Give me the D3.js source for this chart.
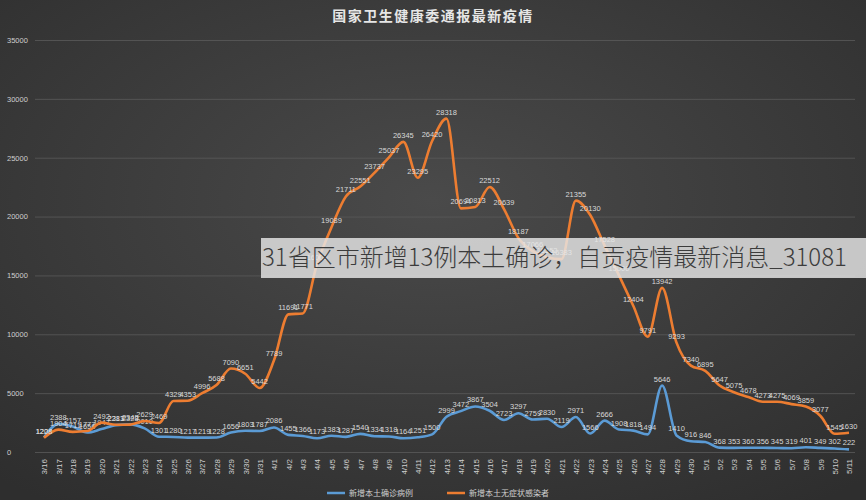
<!DOCTYPE html>
<html><head><meta charset="utf-8">
<script src="https://cdn.jsdelivr.net/npm/d3@7"></script>
<style>body{margin:0;background:#3a3a3a}svg{display:block}</style></head>
<body><svg id="c" width="866" height="500"></svg>
<script>
const dates = ["3/16","3/17","3/18","3/19","3/20","3/21","3/22","3/23","3/24","3/25","3/26","3/27","3/28","3/29","3/30","3/31",
"4/1","4/2","4/3","4/4","4/5","4/6","4/7","4/8","4/9","4/10","4/11","4/12","4/13","4/14","4/15","4/16","4/17","4/18","4/19","4/20","4/21","4/22","4/23","4/24","4/25","4/26","4/27","4/28","4/29","4/30",
"5/1","5/2","5/3","5/4","5/5","5/6","5/7","5/8","5/9","5/10","5/11"];
const confirmed = [1226,2388,2157,1656,1947,2281,2345,2010,1301,1280,1217,1219,1228,1656,1803,1787,
2086,1455,1366,1173,1383,1287,1540,1334,1318,1164,1251,1500,2999,3472,3867,3504,2723,3297,2759,2830,2119,2971,1566,2666,1908,1818,1494,5646,1410,916,
846,368,353,360,356,345,319,401,349,302,222];
const asymptomatic = [1208,1904,1711,1777,2492,2313,2328,2629,2469,4329,4353,4996,5688,7090,6651,5442,
7789,11691,11771,16000,19089,21711,22551,23737,25037,26345,23295,26420,28318,20694,20813,22512,20639,18187,17066,16552,16383,21355,20130,17528,15000,12404,9791,13942,9293,7340,
6895,5647,5075,4678,4273,4275,4069,3859,3077,1545,1630];
const yTicks = [0,5000,10000,15000,20000,25000,30000,35000];
const seriesNames = ["新增本土确诊病例","新增本土无症状感染者"];
const colors = ["#5b9bd5","#ed7d31"];

const svg = d3.select("#c");
const defs = svg.append("defs");
const g0 = defs.append("radialGradient").attr("id","bg").attr("cx","50%").attr("cy","40%").attr("r","75%");
g0.append("stop").attr("offset","0%").attr("stop-color","#4a4a4a");
g0.append("stop").attr("offset","100%").attr("stop-color","#2e2e2e");
svg.append("rect").attr("width",866).attr("height",500).attr("fill","url(#bg)");

const x = d3.scalePoint().domain(dates).range([44,849]);
const y = d3.scaleLinear().domain([0,35000]).range([452,40]);

const gy = svg.append("g").attr("transform","translate(35,0)")
  .call(d3.axisLeft(y).tickValues(yTicks).tickSize(-820).tickFormat(d3.format("d")));
gy.select(".domain").remove();
gy.selectAll("line").attr("stroke","#5a5a5a").attr("stroke-width",0.8);
gy.selectAll("text").attr("fill","#cfcfcf").attr("font-size",7.5).attr("font-family","Liberation Sans")
  .attr("text-anchor","start").attr("x",-28).attr("dy","0.32em");

const gx = svg.append("g").attr("transform","translate(0,455)")
  .call(d3.axisBottom(x).tickSize(0));
gx.select(".domain").remove();
gx.selectAll("text").attr("fill","#cfcfcf").attr("font-size",8).attr("font-family","Liberation Sans")
  .attr("transform","rotate(-90)").attr("text-anchor","end").attr("x",-4).attr("y",0).attr("dy","0.35em");

[confirmed, asymptomatic].forEach((s,i)=>{
  svg.append("path").datum(s).attr("fill","none").attr("stroke",colors[i]).attr("stroke-width",2.6)
    .attr("stroke-linejoin","round")
    .attr("d",d3.line().curve(d3.curveMonotoneX).x((d,j)=>x(dates[j])).y(d=>y(d)));
  svg.append("g").selectAll("text").data(s).join("text")
    .attr("x",(d,j)=>x(dates[j])).attr("y",d=>y(d)-4)
    .attr("text-anchor","middle").attr("font-size",7.5).attr("font-family","Liberation Sans")
    .attr("fill","#d8d8d8").text(d=>d);
});

svg.append("text").attr("x",433).attr("y",21).attr("text-anchor","middle")
  .attr("font-family","Noto Sans CJK SC").attr("font-weight","bold").attr("font-size",14)
  .attr("letter-spacing",1.5).attr("fill","#e6e6e6").text("国家卫生健康委通报最新疫情");

const lg = svg.append("g").attr("transform","translate(327,493)");
seriesNames.forEach((n,i)=>{
  const ox = i*120;
  lg.append("line").attr("x1",ox).attr("x2",ox+18).attr("y1",0).attr("y2",0).attr("stroke",colors[i]).attr("stroke-width",2.5);
  lg.append("text").attr("x",ox+22).attr("y",0).attr("dy","0.35em").attr("font-size",8)
    .attr("font-family","Noto Sans CJK SC").attr("fill","#cfcfcf").text(n);
});

svg.append("rect").attr("x",261).attr("y",238).attr("width",605).attr("height",40).attr("fill","#e6e6e6").attr("opacity",0.82);
svg.append("text").attr("x",262).attr("y",258).attr("dy","0.35em").attr("font-family","Noto Sans CJK SC")
  .attr("font-weight",300).attr("font-size",24).attr("fill","#3c3c3c").text("31省区市新增13例本土确诊，自贡疫情最新消息_31081");
</script></body></html>
